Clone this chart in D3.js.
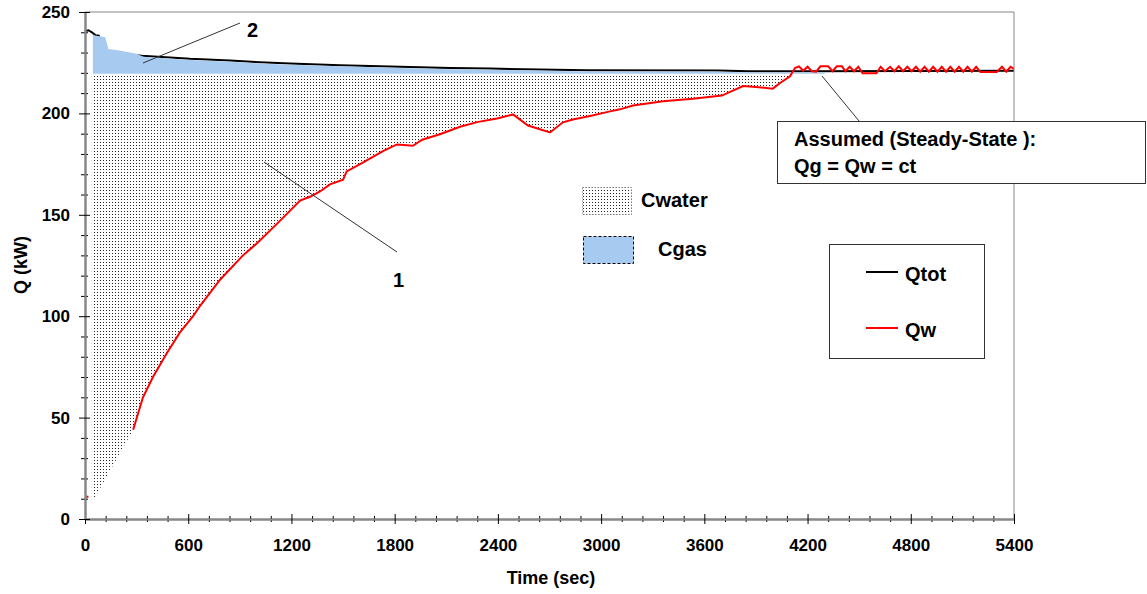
<!DOCTYPE html>
<html>
<head>
<meta charset="utf-8">
<script src="https://cdn.jsdelivr.net/npm/d3@7"></script>
<style>
  body { margin: 0; background: #fff; }
  text { font-family: Arial, "Liberation Sans", sans-serif; font-weight: bold; fill: #000; }
</style>
</head>
<body>
<div id="chart"></div>
<script>
// dimensions de la page
var width = 1147,
    height = 594;

// Qtot (ligne noire)
var qtotT = [0, 20, 40, 60, 80, 110, 330, 610, 843, 1017, 1192, 1482, 1831, 2122, 2354, 2918, 3685, 3860, 4200, 5400];
var qtotV = [240.5, 241, 240, 238.6, 238.3, 230.4, 228.4, 226.9, 226.1, 225.2, 224.6, 223.8, 223.0, 222.4, 222.1, 221.3, 221.2, 220.8, 220.8, 221.0];

// Cgas (zone bleue) : bord haut, le bas est la valeur stable
var gasT = [46, 60, 118, 136, 200, 300, 340, 610, 843, 1017, 1192, 1482, 1831, 2122, 2354, 2918, 3640, 3860, 4300];
var gasTop = [238.8, 238.4, 237.6, 231.8, 231.0, 229.4, 227.9, 226.3, 225.5, 224.6, 224.0, 223.2, 222.4, 221.8, 221.5, 220.7, 220.6, 220.2, 220.2];
var gasBase = 219.5;

// Qw (ligne rouge), null = pas de trait
var qwT = [0, 20, 30, 40, 200, 280, 337, 395, 477, 552, 628, 668, 785, 918, 1000, 1133, 1250, 1311, 1366, 1424, 1500, 1521,
           1620, 1732, 1813, 1906, 1960, 2063, 2180, 2279, 2395, 2488, 2575, 2703, 2778, 2836, 2936, 3052, 3110, 3185,
           3360, 3534, 3702, 3825, 3900, 3998, 4040, 4098, 4127,
           4150, 4175, 4200, 4225, 4250, 4275, 4320, 4345, 4370, 4400, 4420, 4445, 4470, 4495, 4520, 4600, 4625, 4650,
           4680, 4705, 4730, 4755, 4780, 4805, 4830, 4855, 4880, 4905, 4930, 4955, 4980, 5005, 5030, 5055, 5080, 5105,
           5130, 5155, 5180, 5205, 5300, 5330, 5355, 5380, 5400];
var qwV = [11, 11, null, 8, null, 44, 60, 70, 82, 92, 100, 105, 118, 130, 136, 147, 157, 159, 161.5, 165, 167.3, 171.4,
           176, 181.4, 184.7, 184, 187, 189.7, 193.4, 195.7, 197.5, 199.5, 194, 190.6, 195.6, 197, 198.7, 201, 202, 203.9,
           206, 207.2, 208.8, 213.5, 213, 212.2, 215, 218.3, 222.4,
           223.2, 221, 223, 220.8, 220.6, 223.2, 223.2, 220.8, 223.2, 223.2, 220.8, 223, 220.8, 223, 219.8, 219.8, 223, 220.8,
           223, 220.8, 223.2, 220.8, 223, 220.8, 223, 220.6, 223, 220.6, 223, 220.6, 223, 220.6, 223, 220.6, 223, 220.6,
           223, 220.6, 223, 220.4, 220.4, 223, 220.6, 223, 222];
var waterTop = 219;

// graduations
var xMajor = [0, 600, 1200, 1800, 2400, 3000, 3600, 4200, 4800, 5400];
var yMajor = [0, 50, 100, 150, 200, 250];

var svg = d3.select("#chart")
    .append("svg")
    .attr("width", width)
    .attr("height", height);

var x = d3.scaleLinear().domain([0, 5400]).range([85, 1014]);
var y = d3.scaleLinear().domain([0, 250]).range([519, 12]);

// motif pointillé pour Cwater
var defs = svg.append("defs");
var pat = defs.append("pattern")
    .attr("id", "dots")
    .attr("patternUnits", "userSpaceOnUse")
    .attr("width", 3)
    .attr("height", 3);
pat.append("rect").attr("x", 1).attr("y", 1).attr("width", 1).attr("height", 1).attr("fill", "#222");

// on met les données en objets
var qtot = qtotT.map(function (t, i) { return { t: t, v: qtotV[i] }; });
var gas = gasT.map(function (t, i) { return { t: t, v: gasTop[i] }; });
var qw = qwT.map(function (t, i) { return { t: t, v: qwV[i] }; });

// zone eau : entre Qw et la valeur stable
var waterData = qw.filter(function (d) { return d.v != null && d.t >= 40 && d.t <= 4098; });

svg.append("path")
    .datum(waterData)
    .attr("fill", "url(#dots)")
    .attr("d", d3.area()
        .x(function (d) { return x(d.t); })
        .y0(function (d) { return y(d.v); })
        .y1(y(waterTop)));

// ligne noire d'abord, la zone bleue passe dessus
svg.append("path")
    .datum(qtot)
    .attr("fill", "none")
    .attr("stroke", "#000")
    .attr("stroke-width", 2)
    .attr("d", d3.line().x(function (d) { return x(d.t); }).y(function (d) { return y(d.v); }));

svg.append("path")
    .datum(gas)
    .attr("fill", "#a6caf0")
    .attr("d", d3.area()
        .x(function (d) { return x(d.t); })
        .y0(y(gasBase))
        .y1(function (d) { return y(d.v); }));

// Qw en rouge
svg.append("path")
    .datum(qw)
    .attr("fill", "none")
    .attr("stroke", "#ff0000")
    .attr("stroke-width", 2)
    .attr("d", d3.line()
        .defined(function (d) { return d.v != null; })
        .x(function (d) { return x(d.t); })
        .y(function (d) { return y(d.v); }));

// cadre haut et droit
svg.append("line").attr("x1", 85).attr("x2", 1014).attr("y1", 12).attr("y2", 12).attr("stroke", "#888");
svg.append("line").attr("x1", 1014).attr("x2", 1014).attr("y1", 12).attr("y2", 519).attr("stroke", "#888");

// axe X
var fmt = d3.format("d");
var xMinor = d3.range(0, 5401, 120).filter(function (v) { return v % 600 !== 0; });
var gx = svg.append("g").attr("transform", "translate(0,519)");
gx.call(d3.axisBottom(x).tickValues(xMinor).tickFormat("").tickSizeOuter(0));
gx.selectAll(".tick line").attr("y1", -3).attr("y2", 3).attr("stroke", "#000");
var gx2 = svg.append("g").attr("transform", "translate(0,519)");
gx2.call(d3.axisBottom(x).tickValues(xMajor).tickFormat(fmt).tickSizeInner(5).tickSizeOuter(0).tickPadding(15));
gx2.selectAll(".tick line").attr("y1", -5).attr("stroke", "#000");
gx2.selectAll(".tick text").style("font-size", "17px").style("font-family", "Arial, 'Liberation Sans', sans-serif").style("font-weight", "bold");
svg.selectAll(".domain").attr("stroke", "#888").attr("stroke-width", 2);

// axe Y
var yMinor = d3.range(0, 251, 10).filter(function (v) { return v % 50 !== 0; });
var gy = svg.append("g").attr("transform", "translate(85,0)");
gy.call(d3.axisLeft(y).tickValues(yMinor).tickFormat("").tickSizeOuter(0));
gy.selectAll(".tick line").attr("x1", 3).attr("x2", -4).attr("stroke", "#000");
var gy2 = svg.append("g").attr("transform", "translate(85,0)");
gy2.call(d3.axisLeft(y).tickValues(yMajor).tickFormat(fmt).tickSizeInner(6).tickSizeOuter(0).tickPadding(9));
gy2.selectAll(".tick line").attr("x1", 5).attr("stroke", "#000");
gy2.selectAll(".tick text").style("font-size", "17px").style("font-family", "Arial, 'Liberation Sans', sans-serif").style("font-weight", "bold");
gy.select(".domain").attr("stroke", "#888").attr("stroke-width", 2);
gy2.select(".domain").attr("stroke", "#888").attr("stroke-width", 2);

// titres des axes
svg.append("text")
    .attr("x", 551).attr("y", 584)
    .attr("text-anchor", "middle")
    .style("font-size", "18px")
    .text("Time (sec)");

svg.append("text")
    .attr("transform", "translate(27,265) rotate(-90)")
    .attr("text-anchor", "middle")
    .style("font-size", "18px")
    .text("Q (kW)");

// annotations 1 et 2
svg.append("line").attr("x1", 240).attr("y1", 23).attr("x2", 143).attr("y2", 63).attr("stroke", "#333");
svg.append("text").attr("x", 247).attr("y", 37).style("font-size", "20px").text("2");
svg.append("line").attr("x1", 264).attr("y1", 162).attr("x2", 397).attr("y2", 252).attr("stroke", "#333");
svg.append("text").attr("x", 393).attr("y", 287).style("font-size", "20px").text("1");

// boite régime stable
svg.append("line").attr("x1", 822).attr("y1", 76).attr("x2", 864).attr("y2", 127).attr("stroke", "#333");
svg.append("rect").attr("x", 777.5).attr("y", 121.5).attr("width", 368).attr("height", 62)
    .attr("fill", "#fff").attr("stroke", "#333");
svg.append("text").attr("x", 794).attr("y", 146).style("font-size", "20px").text("Assumed (Steady-State ):");
svg.append("text").attr("x", 794).attr("y", 173).style("font-size", "20px").text("Qg = Qw = ct");

// légende des zones
svg.append("rect").attr("x", 582.5).attr("y", 187.5).attr("width", 49).attr("height", 27)
    .attr("fill", "url(#dots)").attr("stroke", "#666").attr("stroke-dasharray", "1,2");
svg.append("text").attr("x", 641).attr("y", 207).style("font-size", "20px").text("Cwater");
svg.append("rect").attr("x", 583.5).attr("y", 236.5).attr("width", 50).attr("height", 27)
    .attr("fill", "#a6caf0").attr("stroke", "#000").attr("stroke-dasharray", "3,2");
svg.append("text").attr("x", 658).attr("y", 256).style("font-size", "20px").text("Cgas");

// légende des lignes
svg.append("rect").attr("x", 829.5).attr("y", 244.5).attr("width", 155).attr("height", 114)
    .attr("fill", "none").attr("stroke", "#333");
svg.append("line").attr("x1", 866).attr("x2", 898).attr("y1", 272).attr("y2", 272).attr("stroke", "#000").attr("stroke-width", 2);
svg.append("text").attr("x", 905).attr("y", 281).style("font-size", "20px").text("Qtot");
svg.append("line").attr("x1", 866).attr("x2", 898).attr("y1", 328).attr("y2", 328).attr("stroke", "#ff0000").attr("stroke-width", 2);
svg.append("text").attr("x", 905).attr("y", 337).style("font-size", "20px").text("Qw");
</script>
</body>
</html>
